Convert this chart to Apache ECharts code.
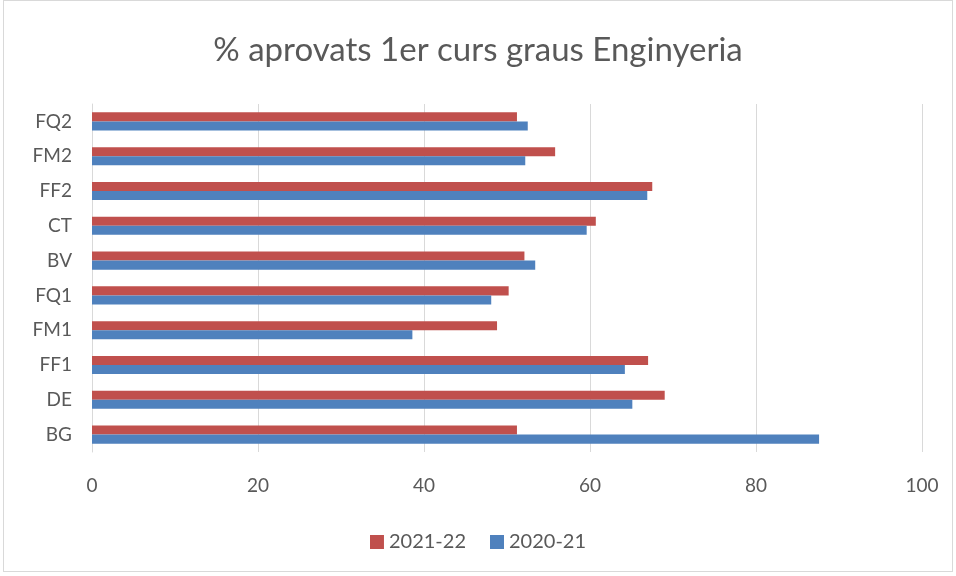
<!DOCTYPE html>
<html>
<head>
<meta charset="utf-8">
<script src="https://cdn.jsdelivr.net/npm/echarts@6/dist/echarts.min.js"></script>
<style>
  html, body { margin: 0; padding: 0; background: #fff; }
  #chart { position: absolute; left: 3px; top: 0; width: 950px; height: 572px; border: 1px solid #d9d9d9; box-sizing: border-box; }
</style>
</head>
<body>
<div id="chart"></div>
<script>
var categories = ["BG", "DE", "FF1", "FM1", "FQ1", "BV", "CT", "FF2", "FM2", "FQ2"];
var values2021 = [87.6, 65.1, 64.2, 38.6, 48.1, 53.4, 59.6, 66.9, 52.2, 52.5];
var values2122 = [51.2, 69.0, 67.0, 48.8, 50.2, 52.1, 60.7, 67.5, 55.8, 51.2];
var xTicks = [0, 20, 40, 60, 80, 100];

var font = "Lato, 'Open Sans', sans-serif";
var chart = echarts.init(document.getElementById("chart"));
var option = {
  animation: false,
  title: {
    text: "% aprovats 1er curs graus Enginyeria",
    left: "center",
    top: 28,
    textStyle: { color: "#595959", fontSize: 33, fontWeight: "normal", fontFamily: font }
  },
  legend: {
    bottom: 14,
    left: "center",
    itemWidth: 14,
    itemHeight: 14,
    itemGap: 24,
    icon: "rect",
    data: ["2021-22", "2020-21"],
    textStyle: { color: "#595959", fontSize: 20, fontFamily: font }
  },
  grid: { left: 88, right: 30, top: 103, bottom: 119 },
  xAxis: {
    type: "value",
    min: xTicks[0],
    max: xTicks[xTicks.length - 1],
    interval: 20,
    axisLine: { show: false },
    axisTick: { show: false },
    axisLabel: { color: "#595959", fontSize: 19, fontFamily: font, margin: 24 },
    splitLine: { lineStyle: { color: "#d9d9d9", width: 1 } }
  },
  yAxis: {
    type: "category",
    data: categories,
    axisLine: { show: true, lineStyle: { color: "#d9d9d9" } },
    axisTick: { show: false },
    axisLabel: { color: "#595959", fontSize: 19, fontFamily: font, margin: 20 }
  },
  series: [
    {
      name: "2021-22",
      type: "bar",
      data: values2122,
      itemStyle: { color: "#C0504D" },
      barGap: "0%",
      barCategoryGap: "48%"
    },
    {
      name: "2020-21",
      type: "bar",
      data: values2021,
      itemStyle: { color: "#4F81BD" },
      barGap: "0%",
      barCategoryGap: "48%"
    }
  ]
};
chart.setOption(option);
</script>
</body>
</html>
